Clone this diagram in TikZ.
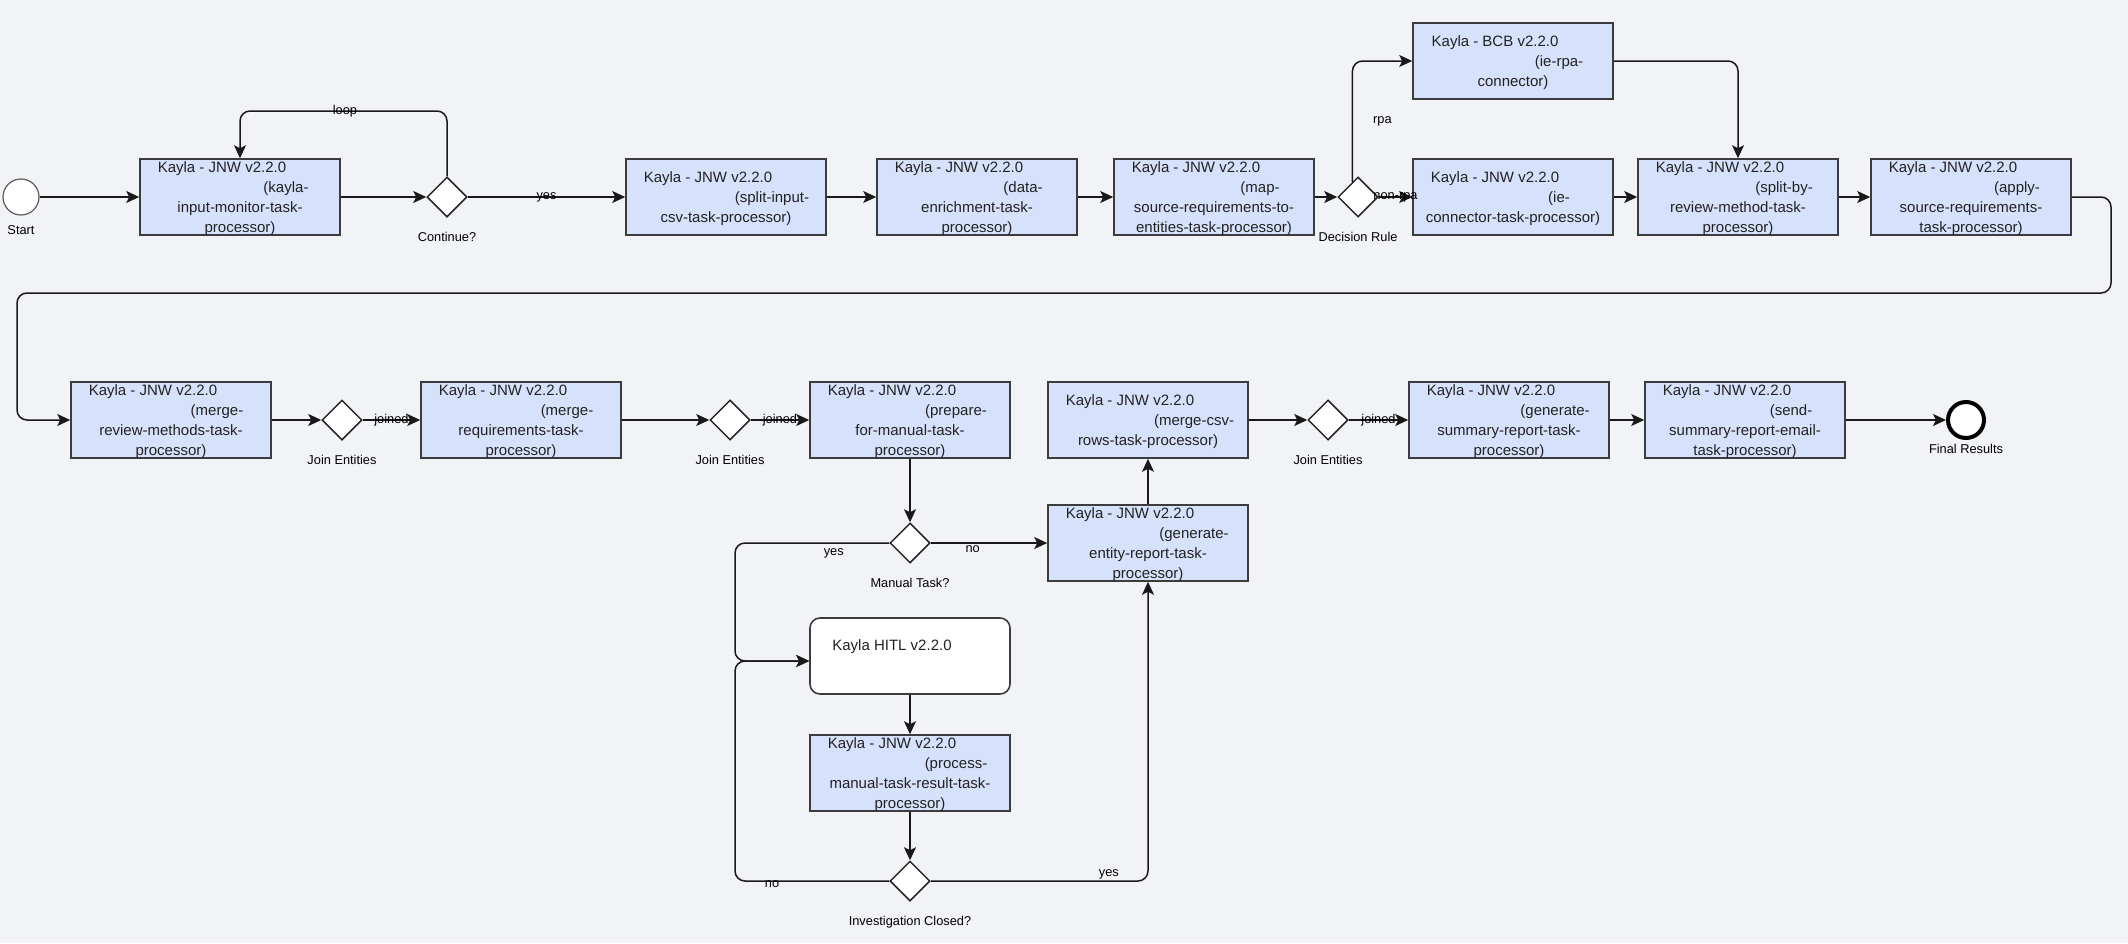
\documentclass[tikz,border=0pt]{standalone}
\usepackage{fontspec}
\setmainfont{Liberation Sans}
\usetikzlibrary{shapes.geometric,arrows.meta,calc}
\definecolor{bgcol}{RGB}{242,243,247}
\definecolor{boxfill}{RGB}{214,225,252}
\definecolor{boxline}{RGB}{60,60,60}
\definecolor{textcol}{RGB}{34,34,34}
\newcommand\kln[1]{#1\rule{36pt}{0pt}}
\newcommand\klr[1]{\rule{92pt}{0pt}#1}
\newcommand\kaylatask[5]{%
  \node[box] (#1) at (#2) {};
  \node[txt] (#1t) at (#1.center) {\kln{#3}\\\klr{#4}\\#5};
}
\tikzset{
  box/.style={rectangle, draw=boxline, fill=boxfill, line width=1.6pt, minimum width=200pt, minimum height=76pt, inner sep=0pt},
  txt/.style={font=\fontsize{15}{20}\selectfont, align=center, inner sep=0pt, text=textcol, yshift=-2pt},
  gate/.style={diamond, draw=black!85, fill=white, minimum width=40pt, minimum height=40pt, inner sep=0pt, line width=1.5pt},
  lbl/.style={font=\fontsize{12.8}{14}\selectfont, inner sep=0pt, text=black},
  startev/.style={circle, draw=black!65, fill=white, minimum size=36pt, inner sep=0pt, line width=1.2pt},
  endev/.style={circle, draw=black, fill=white, minimum size=36pt, inner sep=0pt, line width=4pt},
  arr/.style={draw=black!90, line width=1.5pt, -{Stealth[length=13pt,width=12pt,inset=3pt]}, rounded corners=10pt},
}
\begin{document}
\begin{tikzpicture}[x=1pt,y=-1pt]
\fill[bgcol] (0,0) rectangle (2128,943);
\useasboundingbox (0,0) rectangle (2128,943);

% ---------- row 1 ----------
\node[startev, label={[lbl,label distance=10pt]below:Start}] (start) at (21,197) {};
\kaylatask{b1}{240,197}{Kayla - JNW v2.2.0}{(kayla-}{input-monitor-task-\\processor)}
\node[gate, label={[lbl,label distance=14pt]below:Continue?}] (cont) at (447,197) {};
\kaylatask{b2}{726,197}{Kayla - JNW v2.2.0}{(split-input-}{csv-task-processor)}
\kaylatask{b3}{977,197}{Kayla - JNW v2.2.0}{(data-}{enrichment-task-\\processor)}
\kaylatask{b4}{1214,197}{Kayla - JNW v2.2.0}{(map-}{source-requirements-to-\\entities-task-processor)}
\node[gate, label={[lbl,label distance=14pt]below:Decision Rule}] (dr) at (1358,197) {};
\kaylatask{bcb}{1513,61}{Kayla - BCB v2.2.0}{(ie-rpa-}{connector)}
\kaylatask{iec}{1513,197}{Kayla - JNW v2.2.0}{(ie-}{connector-task-processor)}
\kaylatask{sbr}{1738,197}{Kayla - JNW v2.2.0}{(split-by-}{review-method-task-\\processor)}
\kaylatask{asr}{1971,197}{Kayla - JNW v2.2.0}{(apply-}{source-requirements-\\task-processor)}

% ---------- row 2 ----------
\kaylatask{mrm}{171,420}{Kayla - JNW v2.2.0}{(merge-}{review-methods-task-\\processor)}
\node[gate, label={[lbl,label distance=14pt]below:Join Entities}] (j1) at (342,420) {};
\kaylatask{mrq}{521,420}{Kayla - JNW v2.2.0}{(merge-}{requirements-task-\\processor)}
\node[gate, label={[lbl,label distance=14pt]below:Join Entities}] (j2) at (730,420) {};
\kaylatask{prep}{910,420}{Kayla - JNW v2.2.0}{(prepare-}{for-manual-task-\\processor)}
\kaylatask{mcsv}{1148,420}{Kayla - JNW v2.2.0}{(merge-csv-}{rows-task-processor)}
\node[gate, label={[lbl,label distance=14pt]below:Join Entities}] (j3) at (1328,420) {};
\kaylatask{gsum}{1509,420}{Kayla - JNW v2.2.0}{(generate-}{summary-report-task-\\processor)}
\kaylatask{ssum}{1745,420}{Kayla - JNW v2.2.0}{(send-}{summary-report-email-\\task-processor)}
\node[endev, label={[lbl,label distance=4pt]below:Final Results}] (final) at (1966,420) {};

% ---------- lower part ----------
\node[gate, label={[lbl,label distance=14pt]below:Manual Task?}] (mt) at (910,543) {};
\kaylatask{gent}{1148,543}{Kayla - JNW v2.2.0}{(generate-}{entity-report-task-\\processor)}
\node[box, fill=white, rounded corners=10pt] (hitl) at (910,656) {};
\node[txt, yshift=11pt] (hitlt) at (hitl.center) {\kln{Kayla HITL v2.2.0}};
\kaylatask{pm}{910,773}{Kayla - JNW v2.2.0}{(process-}{manual-task-result-task-\\processor)}
\node[gate, label={[lbl,label distance=14pt]below:Investigation Closed?}] (ic) at (910,881) {};

% ---------- connectors ----------
\coordinate (lp) at (345,111);
\coordinate (w1) at (2111,293);
\coordinate (w2) at (17,293);
\coordinate (hl) at (735,661);

\draw[arr] (start.east) -- (b1.west);
\draw[arr] (b1.east) -- (cont.west);
\draw[arr] (cont.north) |- (lp) node[lbl]{loop} -| (b1.north);
\draw[arr] (cont.east) -- node[lbl]{yes} (b2.west);
\draw[arr] (b2.east) -- (b3.west);
\draw[arr] (b3.east) -- (b4.west);
\draw[arr] (b4.east) -- (dr.west);
\draw[arr] (dr.110) |- node[lbl, pos=0.25, xshift=30pt]{rpa} (bcb.west);
\draw[arr] (dr.east) -- node[lbl]{non-rpa} (iec.west);
\draw[arr] (iec.east) -- (sbr.west);
\draw[arr] (bcb.east) -| (sbr.north);
\draw[arr] (sbr.east) -- (asr.west);
\draw[arr] (asr.east) -| (w1) -- (w2) |- (mrm.west);

\draw[arr] (mrm.east) -- (j1.west);
\draw[arr] (j1.east) -- node[lbl]{joined} (mrq.west);
\draw[arr] (mrq.east) -- (j2.west);
\draw[arr] (j2.east) -- node[lbl]{joined} (prep.west);
\draw[arr] (prep.south) -- (mt.north);
\draw[arr] (mt.east) -- node[lbl, pos=0.36, yshift=-6pt]{no} (gent.west);
\draw[arr] (mt.west) -| node[lbl, pos=0.18, yshift=-10pt]{yes} (hl) -- (hitl.west |- hl);
\draw[arr] (hitl.south) -- (pm.north);
\draw[arr] (pm.south) -- (ic.north);
\draw[arr] (ic.west) -| node[lbl, pos=0.38, yshift=-3pt]{no} (hl) -- (hitl.west |- hl);
\draw[arr] (ic.east) -| node[lbl, pos=0.41, yshift=7pt]{yes} (gent.south);
\draw[arr] (gent.north) -- (mcsv.south);
\draw[arr] (mcsv.east) -- (j3.west);
\draw[arr] (j3.east) -- node[lbl]{joined} (gsum.west);
\draw[arr] (gsum.east) -- (ssum.west);
\draw[arr] (ssum.east) -- (final.west);
\end{tikzpicture}
\end{document}
